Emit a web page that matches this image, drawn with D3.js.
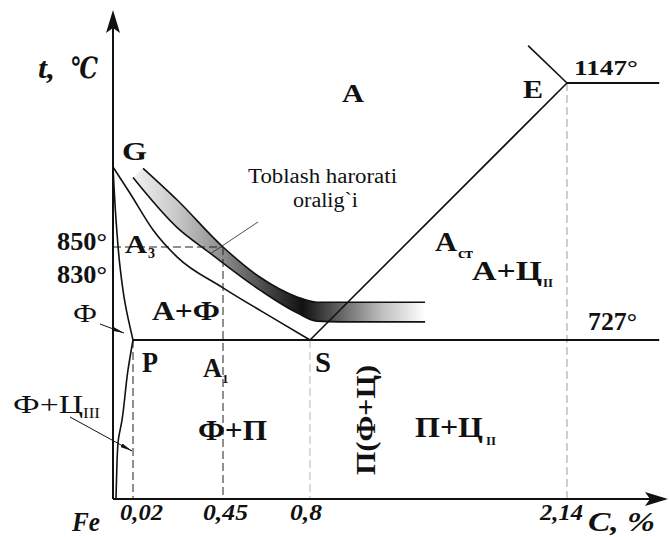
<!DOCTYPE html>
<html>
<head>
<meta charset="utf-8">
<script src="https://cdn.jsdelivr.net/npm/d3@7"></script>
<style>
body { margin: 0; background: #fff; }
text { font-family: "Liberation Serif", "DejaVu Serif", serif; fill: #111; }
</style>
</head>
<body>
<svg id="chart"></svg>
<script>
// schematic Fe-C (steel corner) diagram, axes are not to scale
var carbonBreaks = [0, 0.02, 0.45, 0.8, 2.14, 2.6];
var tempBreaks = [0, 727, 850, 911, 1147, 1350];
var carbonTicks = [0.02, 0.45, 0.8, 2.14];
var carbonTickLabels = ["0,02", "0,45", "0,8", "2,14"];

// phase lines, [C %, t °C]
var lineGP = [[0, 911], [0.003, 871], [0.007, 824], [0.012, 776], [0.02, 727]];
var lineGS = [[0, 911], [0.017, 891], [0.116, 863], [0.230, 837], [0.45, 796], [0.667, 753], [0.8, 727]];
var linePQ = [[0.02, 727], [0.015, 590], [0.009, 361], [0.005, 256], [0.0035, 87], [0.003, 0]];
var lineSE = [[0.8, 727], [2.14, 1147]];
var lineAE = [[1.937, 1251], [2.14, 1147]];
var line1147 = [[2.14, 1147], [2.56, 1147]];
var line727 = [[0.02, 727], [2.56, 727]];

// quenching range band
var bandUpper = [[0.068, 910], [0.230, 886], [0.45, 850], [0.599, 810], [0.748, 784], [0.836, 777], [0.956, 777], [1.40, 777]];
var bandLower = [[0.02, 903], [0.230, 865], [0.388, 842], [0.599, 793], [0.748, 763], [0.836, 752], [0.956, 751], [1.40, 751]];

var width = 670, height = 537;

var x = d3.scaleLinear().domain(carbonBreaks).range([113, 133, 223, 310, 567, 668]);
var y = d3.scaleLinear().domain(tempBreaks).range([499, 340, 247, 167, 83, 10]);

var svg = d3.select("#chart").attr("width", width).attr("height", height);

var defs = svg.append("defs");
var grad = defs.append("linearGradient")
  .attr("id", "bandGrad")
  .attr("gradientUnits", "userSpaceOnUse")
  .attr("x1", x(0.02)).attr("x2", x(1.40)).attr("y1", 0).attr("y2", 0);
[[0, "#f2f2f2"], [0.15, "#c8c8c8"], [0.31, "#8c8c8c"], [0.5, "#343434"], [0.58, "#111111"], [0.66, "#444444"], [0.85, "#bdbdbd"], [1, "#ffffff"]]
  .forEach(function(s) {
    grad.append("stop").attr("offset", s[0]).attr("stop-color", s[1]);
  });

defs.append("marker")
  .attr("id", "tip")
  .attr("viewBox", "0 0 12 4")
  .attr("refX", 12).attr("refY", 2)
  .attr("markerWidth", 12).attr("markerHeight", 4)
  .attr("markerUnits", "userSpaceOnUse")
  .attr("orient", "auto")
  .append("path").attr("d", "M0,0 L12,2 L0,4 Z").attr("fill", "#111");

var lineGen = d3.line()
  .x(function(d) { return x(d[0]); })
  .y(function(d) { return y(d[1]); });
var curveGen = d3.line()
  .x(function(d) { return x(d[0]); })
  .y(function(d) { return y(d[1]); })
  .curve(d3.curveMonotoneX);
var curveGenY = d3.line()
  .x(function(d) { return x(d[0]); })
  .y(function(d) { return y(d[1]); })
  .curve(d3.curveMonotoneY);

// band fill
var upperPath = curveGen(bandUpper);
var lowerPath = curveGen(bandLower.slice().reverse());
svg.append("path")
  .attr("d", upperPath + "L" + lowerPath.slice(1) + "Z")
  .attr("fill", "url(#bandGrad)");
svg.append("path").attr("d", curveGen(bandUpper))
  .attr("fill", "none").attr("stroke", "#111").attr("stroke-width", 1.6);
svg.append("path").attr("d", curveGen(bandLower))
  .attr("fill", "none").attr("stroke", "#111").attr("stroke-width", 1.6);

// dashed guides
var dark = "#222", light = "#b5b5b5";
function guide(pts, col, w) {
  svg.append("path").attr("d", lineGen(pts))
    .attr("fill", "none").attr("stroke", col).attr("stroke-width", w)
    .attr("stroke-dasharray", "8,4");
}
guide([[0.02, 727], [0.02, 0]], dark, 1);
guide([[0.45, 850], [0.45, 0]], dark, 1);
guide([[0, 850], [0.45, 850]], dark, 1);
guide([[0.8, 727], [0.8, 0]], light, 1);
guide([[2.14, 1147], [2.14, 0]], light, 1.3);

// phase lines
function solid(pts, gen, w) {
  svg.append("path").attr("d", gen(pts))
    .attr("fill", "none").attr("stroke", "#111").attr("stroke-width", w);
}
solid(lineGP, curveGenY, 1.6);
solid(lineGS, curveGen, 1.6);
solid(linePQ, curveGenY, 1.6);
solid(lineSE, lineGen, 1.6);
solid(lineAE, lineGen, 1.6);
solid(line1147, lineGen, 1.8);
solid(line727, lineGen, 2);

// axes with arrows
svg.append("line")
  .attr("x1", x(0)).attr("x2", x(0)).attr("y1", y(0)).attr("y2", y(1350) + 14)
  .attr("stroke", "#111").attr("stroke-width", 2);
svg.append("path")
  .attr("d", "M" + x(0) + "," + y(1350) + "l7,23 l-7,-5 l-7,5 Z").attr("fill", "#111");
svg.append("line")
  .attr("x1", x(0)).attr("x2", x(2.6) - 10).attr("y1", y(0)).attr("y2", y(0))
  .attr("stroke", "#111").attr("stroke-width", 2);
svg.append("path")
  .attr("d", "M" + x(2.6) + "," + y(0) + "l-23,-7 l5,7 l-5,7 Z").attr("fill", "#111");

// text helper: start x, baseline y, size, width on the page
function label(txt, px, py, size, w, opts) {
  opts = opts || {};
  var t = svg.append("text").attr("x", px).attr("y", py)
    .attr("font-size", size)
    .attr("font-weight", opts.normal ? "normal" : "bold")
    .attr("font-style", opts.italic ? "italic" : "normal")
    .text(txt);
  if (w) t.attr("textLength", w).attr("lengthAdjust", "spacingAndGlyphs");
  return t;
}

// tick labels
var tickStart = [120, 203, 290, 540];
var tickWidth = [43, 45, 32, 43];
carbonTicks.forEach(function(d, i) {
  label(carbonTickLabels[i], tickStart[i], 520, 23, tickWidth[i], {italic: true});
});

label("t,", 38, 78, 29, 17, {italic: true});
label("℃", 70, 78, 29, 28, {italic: true});
label("Fe", 72, 531, 28, 28, {italic: true});
label("C, %", 588, 531, 28, 67, {italic: true});

label("G", 122, 160, 26, 25);
label("A", 342, 102, 26, 22);
label("E", 523, 98, 26, 20);
label("P", 142, 372, 29, 16);
label("S", 315, 372, 29, 16);
label("1147°", 574, 75, 22, 64);
label("850°", 57, 250, 25, 50);
label("830°", 57, 283, 25, 50);
label("727°", 588, 330, 25, 49);

label("A", 125, 253, 26, 22);
label("3", 148, 258, 14);
label("A", 203, 377, 27, 19);
label("1", 222, 383, 13);
label("A", 435, 251, 27, 22);
label("ст", 458, 258, 14, 15);
label("A+Ф", 152, 320, 28, 68);
label("A+Ц", 472, 280, 28, 70);
label("II", 543, 287, 13, 10);
label("Ф+П", 198, 440, 29, 69);
label("П+Ц", 415, 437, 29, 68);
label("II", 486, 445, 13, 10);
label("Ф", 73, 322, 25, 24, {normal: true});
label("Ф+Ц", 13, 413, 25, 70, {normal: true});
label("III", 83, 418, 14, 17, {normal: true});

svg.append("text")
  .attr("transform", "translate(375,475) rotate(-90)")
  .attr("font-size", 28).attr("font-weight", "bold")
  .attr("textLength", 110).attr("lengthAdjust", "spacingAndGlyphs")
  .text("П(Ф+Ц)");

label("Toblash harorati", 248, 183, 20, 149, {normal: true});
label("oralig`i", 293, 207, 20, 65, {normal: true});

// leaders
svg.append("line").attr("x1", 210).attr("y1", 254).attr("x2", 258).attr("y2", 222)
  .attr("stroke", "#222").attr("stroke-width", 0.8);
svg.append("line").attr("x1", 100).attr("y1", 324).attr("x2", 124).attr("y2", 333)
  .attr("stroke", "#111").attr("stroke-width", 1).attr("marker-end", "url(#tip)");
svg.append("line").attr("x1", 70).attr("y1", 417).attr("x2", 132).attr("y2", 451)
  .attr("stroke", "#111").attr("stroke-width", 1).attr("marker-end", "url(#tip)");
</script>
</body>
</html>
